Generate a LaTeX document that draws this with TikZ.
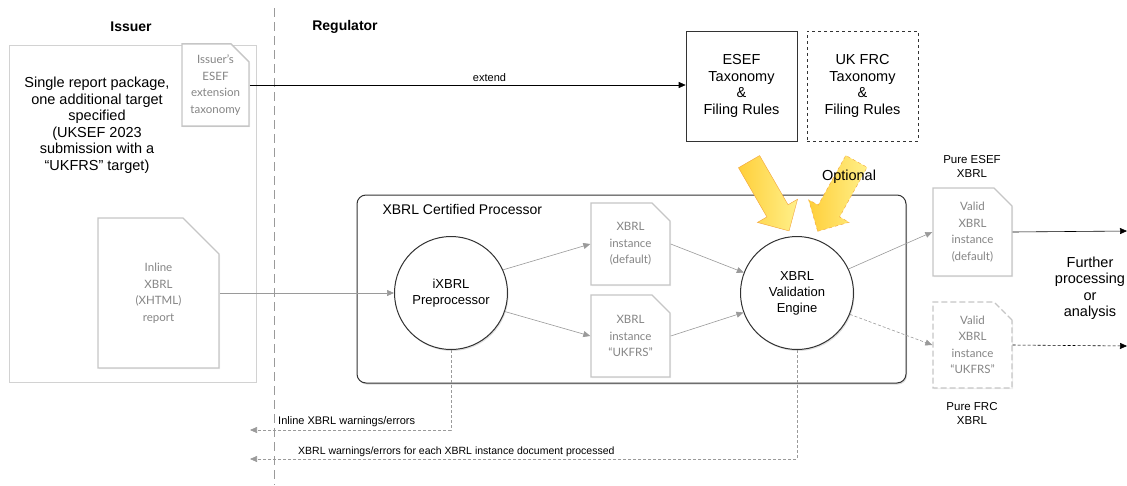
\documentclass[tikz,border=0pt]{standalone}
\usepackage{fontspec}
\setmainfont{Liberation Sans}
\newfontfamily\docfont{Lato}
\usetikzlibrary{arrows.meta,shapes.misc,shapes.arrows,shadows}
\definecolor{docline}{HTML}{C6C6C6}
\definecolor{doctext}{HTML}{858585}
\definecolor{linegray}{HTML}{9A9A9A}
\definecolor{boxline}{HTML}{D2D2D2}
\definecolor{arrowfill}{HTML}{FFCF3A}
\definecolor{arrowlight}{HTML}{FFF08A}
\definecolor{arrowline}{HTML}{F2A23A}

\begin{document}
\begin{tikzpicture}[x=1pt,y=-1pt,
  heading/.style={font=\bfseries\fontsize{14}{16}\selectfont},
  plain/.style={align=center, font=\fontsize{14.5}{16.5}\selectfont},
  small/.style={align=center, font=\fontsize{11.5}{14}\selectfont},
  doc/.style={chamfered rectangle, chamfered rectangle corners=north east,
    chamfered rectangle xsep=7pt, chamfered rectangle ysep=11pt,
    draw=docline, line width=1.4pt, fill=white, text=doctext, inner sep=0pt,
    minimum width=79pt, align=center, font=\docfont\fontsize{11.5}{16.5}\selectfont,
    drop shadow={opacity=0.12, shadow xshift=1pt, shadow yshift=-1pt}},
  rulebox/.style={draw=black!80, semithick, minimum width=111pt, minimum height=110pt,
    align=center, font=\fontsize{14.5}{16.7}\selectfont},
  engine/.style={circle, draw=black!80, line width=1pt, fill=white, minimum size=113pt,
    align=center, font=\fontsize{13}{16}\selectfont,
    drop shadow={opacity=0.25, shadow xshift=1pt, shadow yshift=-1.5pt}},
  fatarrow/.style={single arrow, draw=arrowline, left color=arrowfill, right color=arrowlight,
    minimum height=80pt, inner sep=12pt, single arrow head extend=11pt},
  grayarrow/.style={draw=linegray, semithick, -{Triangle[length=7pt,width=6pt]}},
  blackarrow/.style={draw=black, semithick, -{Triangle[length=7pt,width=6pt]}},
  fbarrow/.style={draw=linegray, semithick, dash pattern=on 3pt off 2pt,
    -{Triangle[length=7pt,width=6pt]}},
  fblabel/.style={font=\fontsize{11}{13}\selectfont, inner sep=1pt}]
  \useasboundingbox (0,0) rectangle (1127,485);

  % issuer side
  \node[heading] (issuerlbl) at (131,27) {Issuer};
  \node[heading] (regulatorlbl) at (345,27) {Regulator};
  \draw[linegray, dash pattern=on 9pt off 5pt] (274,8) -- (274,485);
  \node[draw=boxline, line width=1pt, minimum width=247pt, minimum height=337pt] (issuer) at (132.5,213.5) {};
  \node[plain] (pkg) at (97,125) {Single report package,\\one additional target\\specified\\(UKSEF 2023\\submission with a\\“UKFRS” target)};
  \node[doc, minimum width=67pt, minimum height=66pt] (ext) at (215.5,85) {Issuer’s\\ESEF\\extension\\taxonomy};
  \node[doc, minimum width=121pt, minimum height=150pt, chamfered rectangle xsep=14pt,
    chamfered rectangle ysep=22pt] (inline) at (158.5,293) {Inline\\XBRL\\(XHTML)\\report};

  % taxonomies
  \node[rulebox] (esef) at (741.5,86) {ESEF\\Taxonomy\\\&\\Filing Rules};
  \node[rulebox, dashed] (ukfrc) at (862.5,86) {UK FRC\\Taxonomy\\\&\\Filing Rules};

  % processor
  \node[draw=black!80, line width=1pt, rounded corners=9pt, minimum width=549pt, minimum height=188pt,
    drop shadow={opacity=0.3, shadow xshift=1pt, shadow yshift=-1.5pt}, fill=white] (proc) at (631.5,289) {};
  \node[anchor=west, font=\fontsize{14}{16}\selectfont] (proclbl) at (379,209) {XBRL Certified Processor};
  \node[engine] (ixbrl) at (451,293) {iXBRL\\Preprocessor};
  \node[engine] (valeng) at (797,293) {XBRL\\Validation\\Engine};
  \node[doc, minimum height=82pt] (inst1) at (630.5,244) {XBRL\\instance\\(default)};
  \node[doc, minimum height=82pt] (inst2) at (630.5,336) {XBRL\\instance\\“UKFRS”};

  \node[fatarrow, rotate=-60] (esefin) at (766,191) {};
  \node[fatarrow, dashed, rotate=-119] (frcin) at (840,191) {};
  \node[plain] (optional) at (849,177) {Optional};

  % outputs
  \node[doc, minimum height=88pt] (valid1) at (972.5,232) {Valid\\XBRL\\instance\\(default)};
  \node[doc, minimum height=86pt, dash pattern=on 6pt off 3pt] (valid2) at (972.5,345) {Valid\\XBRL\\instance\\“UKFRS”};
  \node[small] (pureesef) at (972,166) {Pure ESEF\\XBRL};
  \node[small] (purefrc) at (972,413) {Pure FRC\\XBRL};
  \node[plain] (further) at (1090,288) {Further\\processing\\or\\analysis};
  \coordinate (out1) at (1127,231);
  \coordinate (out2) at (1127,346);
  \coordinate (inlineerr) at (250,430);
  \coordinate (xbrlerr) at (250,459);

  % connectors
  \draw[blackarrow] (ext.east) -- (ext.east -| esef.west)
    node[pos=0.55, above, font=\fontsize{11}{13}\selectfont, inner sep=3pt] (extendlbl) {extend};
  \draw[grayarrow] (inline.east) -- (ixbrl.west);
  \draw[grayarrow] (ixbrl.24) -- (inst1.west);
  \draw[grayarrow] (ixbrl.-19) -- (inst2.west);
  \draw[grayarrow] (inst1.east) -- (valeng.159);
  \draw[grayarrow] (inst2.east) -- (valeng.200);
  \draw[grayarrow] (valeng.25) -- (valid1.west);
  \draw[fbarrow] (valeng.-22) -- (valid2.west);
  \draw[blackarrow] (valid1.east) -- (out1);
  \draw[blackarrow, dash pattern=on 3pt off 2pt] (valid2.east) -- (out2);
  \draw[fbarrow] (ixbrl.south) |- (inlineerr);
  \draw[fbarrow] (valeng.south) |- (xbrlerr);
  \node[fblabel, anchor=south west] (inlinemsg) at (277,428) {Inline XBRL warnings/errors};
  \node[fblabel, anchor=south west, font=\fontsize{10.5}{13}\selectfont] (xbrlmsg) at (297,458) {XBRL warnings/errors for each XBRL instance document processed};
\end{tikzpicture}
\end{document}
